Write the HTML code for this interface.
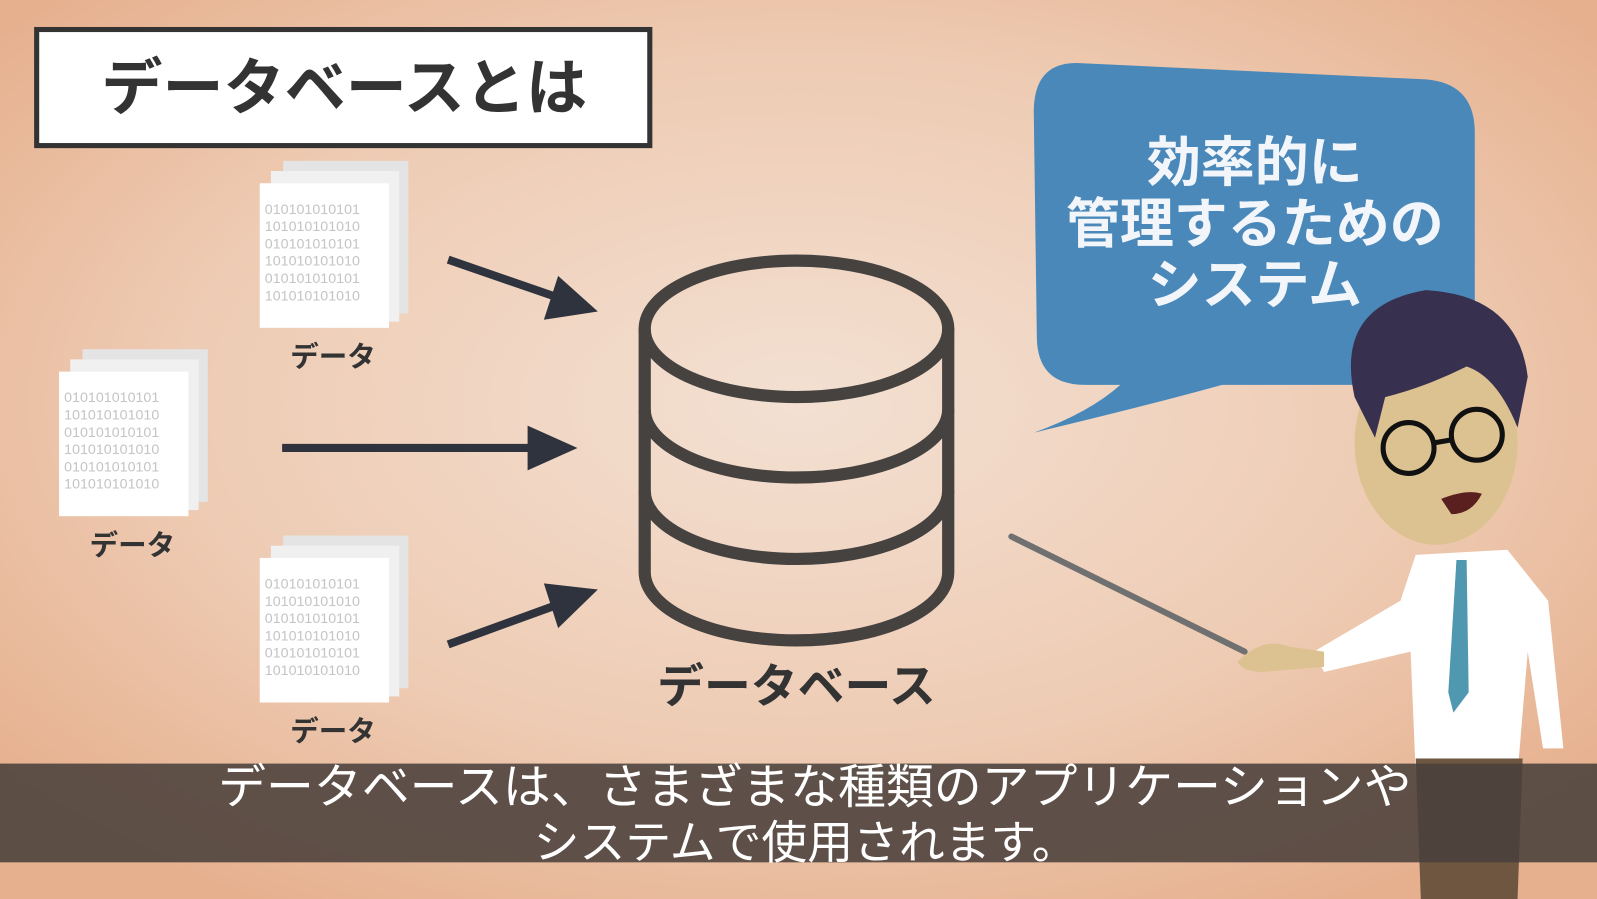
<!DOCTYPE html>
<html><head><meta charset="utf-8"><style>
html,body{margin:0;padding:0;width:1597px;height:899px;overflow:hidden;}
svg{display:block}
text{font-family:"Liberation Sans","Noto Sans CJK JP",sans-serif;}
</style></head><body>
<svg width="1597" height="899" viewBox="0 0 1568 883" preserveAspectRatio="none" xmlns="http://www.w3.org/2000/svg">
<defs>
<radialGradient id="bg" cx="0.5" cy="0.45" r="0.65">
<stop offset="0" stop-color="#f3e0d2"/>
<stop offset="0.6" stop-color="#eecbb3"/>
<stop offset="1" stop-color="#e6b08e"/>
</radialGradient>
</defs>
<rect width="1568" height="883" fill="url(#bg)"/>
<rect x="36" y="29" width="602" height="114" fill="#fff" stroke="#333" stroke-width="5"/>
<text x="338" y="107" font-size="60" font-weight="bold" fill="#333" text-anchor="middle">データベースとは</text>
<g id="doc1">
<rect x="278" y="158" width="123" height="150" fill="#e4e4e4"/>
<rect x="266" y="168" width="126" height="148" fill="#f0f0f0"/>
<rect x="255" y="180" width="127" height="142" fill="#fff"/>
<g font-size="14" fill="#c4c4c4" font-family="Liberation Sans Narrow, Liberation Sans, sans-serif">
<text x="260" y="210">010101010101</text><text x="260" y="227">101010101010</text><text x="260" y="244">010101010101</text><text x="260" y="261">101010101010</text><text x="260" y="278">010101010101</text><text x="260" y="295">101010101010</text>
</g>
<text x="327" y="360" font-size="28" font-weight="bold" fill="#333" text-anchor="middle">データ</text>
</g>
<use href="#doc1" transform="translate(-197,185)"/>
<use href="#doc1" transform="translate(0,368)"/>
<g stroke="#2e333d" stroke-width="8" fill="#2e333d">
<line x1="440" y1="255" x2="550" y2="293"/>
<line x1="277" y1="440" x2="525" y2="440"/>
<line x1="440" y1="633" x2="550" y2="593"/>
</g>
<g fill="#2e333d">
<polygon points="587,306 534,314 548,271"/>
<polygon points="567,440 518,462 518,418"/>
<polygon points="587,579 548,617 534,573"/>
</g>
<g fill="none" stroke="#454240" stroke-width="12">
<ellipse cx="782" cy="323" rx="149" ry="67"/>
<path d="M633 402 A149 67 0 0 0 931 402"/>
<path d="M633 482 A149 67 0 0 0 931 482"/>
<path d="M633 323 L633 562 A149 67 0 0 0 931 562 L931 323"/>
</g>
<text x="782" y="690" font-size="46" font-weight="bold" fill="#333" text-anchor="middle">データベース</text>
<path d="M1060 62 L1400 78 Q1448 82 1448 130 L1448 330 Q1448 378 1400 378 L1200 378 Q1120 400 1015 425 Q1070 405 1100 378 L1065 378 Q1018 378 1018 330 L1015 110 Q1015 60 1060 62 Z" fill="#4a88ba"/>
<g font-size="53" font-weight="bold" fill="#f2f6fa" text-anchor="middle">
<text x="1232" y="178">効率的に</text>
<text x="1232" y="238">管理するための</text>
<text x="1232" y="298">システム</text>
</g>
<line x1="993" y1="527" x2="1222" y2="640" stroke="#707070" stroke-width="6" stroke-linecap="round"/>
<path d="M1390 545 L1480 540 L1520 590 L1535 735 L1515 735 L1500 640 L1490 760 L1390 760 L1385 640 L1300 660 L1290 640 L1375 590 Z" fill="#fff"/>
<path d="M1215 650 Q1240 625 1265 635 L1300 640 L1300 655 L1240 660 Q1220 660 1215 650Z" fill="#dcc290"/>
<path d="M1430 550 L1440 550 L1442 680 L1427 700 L1422 680 Z" fill="#4f98b0"/>
<path d="M1390 745 L1495 745 L1490 883 L1395 883 Z" fill="#6e5640"/>
<ellipse cx="1410" cy="435" rx="80" ry="100" fill="#dcc290"/>
<path d="M1330 390 Q1310 300 1400 285 Q1490 290 1500 370 L1490 420 Q1470 370 1440 360 Q1400 380 1360 390 L1350 430 Z" fill="#37304f"/>
<g fill="none" stroke="#111" stroke-width="5">
<circle cx="1383" cy="440" r="25"/><circle cx="1450" cy="427" r="25"/>
<line x1="1408" y1="435" x2="1425" y2="432"/>
</g>
<path d="M1415 490 Q1440 480 1455 485 Q1445 505 1425 505 Z" fill="#5a2020"/>
<rect x="0" y="750" width="1568" height="97" fill="#4a403b" fill-opacity="0.88"/>
<g fill="#fff" text-anchor="middle">
<text x="800" y="789" font-size="47">データベースは、さまざまな種類のアプリケーションや</text>
<text x="791" y="843" font-size="45">システムで使用されます。</text>
</g>
</svg>
</body></html>
